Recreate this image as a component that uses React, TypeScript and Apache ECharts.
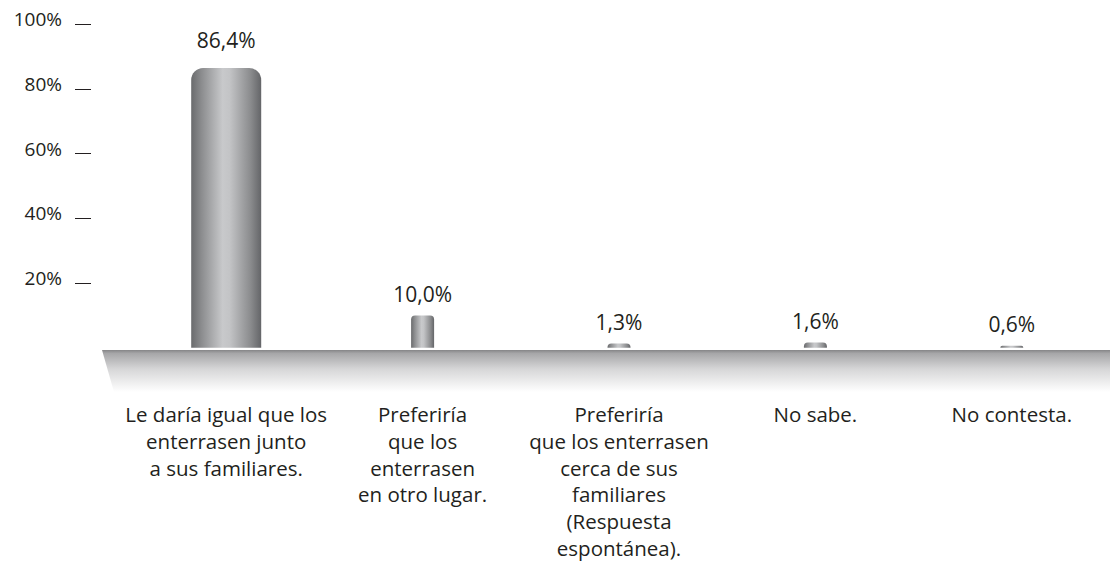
import React, { useEffect, useRef } from "react";
import * as echarts from "echarts";

const categories: string[] = [
  "Le daría igual que los\nenterrasen junto\na sus familiares.",
  "Preferiría\nque los\nenterrasen\nen otro lugar.",
  "Preferiría\nque los enterrasen\ncerca de sus\nfamiliares\n(Respuesta\nespontánea).",
  "No sabe.",
  "No contesta.",
];
const mainValues: (number | string)[] = [86.4, "-", "-", "-", "-"];
const otherValues: (number | string)[] = ["-", 10.0, 1.3, 1.6, 0.6];
const yTicks: number[] = [20, 40, 60, 80, 100];

const FONT = "'Open Sans', 'Noto Sans', sans-serif";
const TEXT = "#231f20";

const barGradient = new echarts.graphic.LinearGradient(0, 0, 1, 0, [
  { offset: 0, color: "#6a6b6d" },
  { offset: 0.15, color: "#8c8d8f" },
  { offset: 0.45, color: "#c8c9cb" },
  { offset: 0.55, color: "#c3c4c6" },
  { offset: 0.85, color: "#8a8b8d" },
  { offset: 1, color: "#646568" },
]);

const fmt = (p: any) =>
  Number(p.value).toFixed(1).replace(".", ",") + "%";

export default function App() {
  const ref = useRef<HTMLDivElement>(null);
  useEffect(() => {
    if (!ref.current) return;
    const chart = echarts.init(ref.current, null, { renderer: "svg" });
    chart.setOption({
      animation: false,
      backgroundColor: "#ffffff",
      textStyle: { fontFamily: FONT },
      graphic: [
        {
          type: "polygon",
          z: 0,
          silent: true,
          shape: {
            points: [
              [102, 350],
              [1110, 350],
              [1110, 392],
              [114, 392],
            ],
          },
          style: {
            fill: new echarts.graphic.LinearGradient(0, 0, 0, 1, [
              { offset: 0, color: "#858587" },
              { offset: 0.08, color: "#a6a6a8" },
              { offset: 0.45, color: "#d6d6d7" },
              { offset: 1, color: "#ffffff" },
            ]),
          },
        },
      ],
      grid: { left: 128, width: 1007, top: 24, bottom: 211, containLabel: false },
      xAxis: [
        {
          type: "category",
          data: categories,
          axisLine: { show: false },
          axisTick: { show: false },
          axisLabel: {
            interval: 0,
            margin: 53,
            color: TEXT,
            fontSize: 20.5,
            lineHeight: 26.7,
            fontFamily: FONT,
            align: "center",
          },
        },
        {
          type: "category",
          data: categories,
          show: false,
        },
      ],
      yAxis: {
        type: "value",
        min: 0,
        max: 100,
        interval: 20,
        offset: 37,
        splitLine: { show: false },
        axisLine: { show: false },
        axisTick: {
          show: true,
          length: 16,
          customValues: yTicks,
          lineStyle: { color: TEXT, width: 1 },
        },
        axisLabel: {
          customValues: yTicks,
          margin: 29,
          color: TEXT,
          fontSize: 19,
          fontFamily: FONT,
          verticalAlign: "bottom",
          lineHeight: 10,
          formatter: (v: number) => v + "%",
        },
      },
      series: [
        {
          type: "bar",
          xAxisIndex: 0,
          data: mainValues,
          barWidth: 70,
          z: 3,
          itemStyle: { color: barGradient, borderRadius: [12, 12, 0, 0] },
          label: {
            show: true,
            position: "top",
            distance: 18,
            color: TEXT,
            fontSize: 21,
            fontFamily: FONT,
            formatter: fmt,
          },
        },
        {
          type: "bar",
          xAxisIndex: 1,
          data: otherValues,
          barWidth: 23,
          z: 3,
          itemStyle: { color: barGradient, borderRadius: [4, 4, 0, 0] },
          label: {
            show: true,
            position: "top",
            distance: 11,
            color: TEXT,
            fontSize: 21,
            fontFamily: FONT,
            formatter: fmt,
          },
        },
      ],
    });
    return () => chart.dispose();
  }, []);
  return (
    <div
      ref={ref}
      style={{ position: "absolute", left: 0, top: 0, width: 1110, height: 561 }}
    />
  );
}
